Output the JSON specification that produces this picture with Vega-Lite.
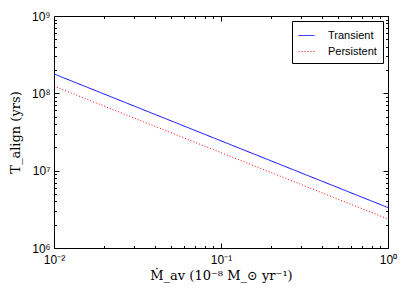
{
  "$schema": "https://vega.github.io/schema/vega-lite/v6.json",
  "width": 334,
  "height": 232,
  "autosize": {"type": "none"},
  "padding": {"left": 54, "top": 16, "right": 19, "bottom": 57},
  "background": "white",
  "config": {
    "view": {"stroke": "black", "strokeWidth": 1},
    "font": "Liberation Sans",
    "axis": {
      "domain": false,
      "grid": false,
      "tickColor": "black",
      "labelColor": "black",
      "labelFont": "Liberation Sans",
      "labelFontSize": 12,
      "titleFont": "DejaVu Serif",
      "titleFontWeight": "normal",
      "titleFontSize": 13,
      "titleColor": "black"
    }
  },
  "data": {
    "values": [
      {"mdot": 0.01, "T": 178000000, "series": "Transient"},
      {"mdot": 0.1, "T": 24300000, "series": "Transient"},
      {"mdot": 1, "T": 3330000, "series": "Transient"},
      {"mdot": 0.01, "T": 124000000, "series": "Persistent"},
      {"mdot": 0.1, "T": 17100000, "series": "Persistent"},
      {"mdot": 1, "T": 2370000, "series": "Persistent"}
    ]
  },
  "layer": [
    {
      "mark": {"type": "line", "strokeWidth": 1, "clip": true},
      "encoding": {
        "x": {
          "field": "mdot", "type": "quantitative",
          "scale": {"type": "log", "domain": [0.01, 1], "nice": false},
          "axis": {
            "orient": "bottom",
            "title": "Ṁ_av (10⁻⁸ M_⊙ yr⁻¹)",
            "titlePadding": 4,
            "values": [0.01, 0.02, 0.03, 0.04, 0.05, 0.06, 0.07, 0.08, 0.09, 0.1, 0.2, 0.3, 0.4, 0.5, 0.6, 0.7, 0.8, 0.9, 1],
            "labelExpr": "datum.value == 0.01 ? '10⁻²' : datum.value == 0.1 ? '10⁻¹' : datum.value == 1 ? '10⁰' : ''",
            "tickSize": {"condition": {"test": "datum.value == 0.01 || datum.value == 0.1 || datum.value == 1", "value": -5}, "value": -2.5},
            "labelPadding": 11,
            "labelFlush": false
          }
        },
        "y": {
          "field": "T", "type": "quantitative",
          "scale": {"type": "log", "domain": [1000000, 1000000000], "nice": false},
          "axis": {
            "orient": "left",
            "title": "T_align (yrs)",
            "titlePadding": 9,
            "values": [1000000, 2000000, 3000000, 4000000, 5000000, 6000000, 7000000, 8000000, 9000000, 10000000, 20000000, 30000000, 40000000, 50000000, 60000000, 70000000, 80000000, 90000000, 100000000, 200000000, 300000000, 400000000, 500000000, 600000000, 700000000, 800000000, 900000000, 1000000000],
            "labelExpr": "datum.value == 1000000 ? '10⁶' : datum.value == 10000000 ? '10⁷' : datum.value == 100000000 ? '10⁸' : datum.value == 1000000000 ? '10⁹' : ''",
            "tickSize": {"condition": {"test": "datum.value == 1000000 || datum.value == 10000000 || datum.value == 100000000 || datum.value == 1000000000", "value": -5}, "value": -2.5},
            "labelPadding": 9,
            "labelFlush": false
          }
        },
        "color": {
          "field": "series", "type": "nominal",
          "scale": {"domain": ["Transient", "Persistent"], "range": ["#0000ff", "#ff0000"]},
          "legend": {
            "title": null,
            "orient": "none",
            "legendX": 238,
            "legendY": 5,
            "strokeColor": "black",
            "fillColor": "white",
            "padding": 6,
            "symbolType": "stroke",
            "symbolSize": 256,
            "symbolStrokeWidth": 1,
            "labelFontSize": 11,
            "labelFont": "Liberation Sans",
            "labelColor": "black",
            "labelOffset": 13,
            "rowPadding": 2
          }
        },
        "strokeDash": {
          "field": "series", "type": "nominal",
          "scale": {"domain": ["Transient", "Persistent"], "range": [[1, 0], [1, 2]]},
          "legend": null
        }
      }
    },
    {
      "mark": {"type": "line", "opacity": 0},
      "encoding": {
        "x": {
          "field": "mdot", "type": "quantitative",
          "scale": {"type": "log", "domain": [0.01, 1], "nice": false},
          "axis": {
            "orient": "top",
            "title": null,
            "labels": false,
            "values": [0.01, 0.02, 0.03, 0.04, 0.05, 0.06, 0.07, 0.08, 0.09, 0.1, 0.2, 0.3, 0.4, 0.5, 0.6, 0.7, 0.8, 0.9, 1],
            "tickSize": {"condition": {"test": "datum.value == 0.01 || datum.value == 0.1 || datum.value == 1", "value": -5}, "value": -2.5}
          }
        },
        "y": {
          "field": "T", "type": "quantitative",
          "scale": {"type": "log", "domain": [1000000, 1000000000], "nice": false},
          "axis": {
            "orient": "right",
            "title": null,
            "labels": false,
            "values": [1000000, 2000000, 3000000, 4000000, 5000000, 6000000, 7000000, 8000000, 9000000, 10000000, 20000000, 30000000, 40000000, 50000000, 60000000, 70000000, 80000000, 90000000, 100000000, 200000000, 300000000, 400000000, 500000000, 600000000, 700000000, 800000000, 900000000, 1000000000],
            "tickSize": {"condition": {"test": "datum.value == 1000000 || datum.value == 10000000 || datum.value == 100000000 || datum.value == 1000000000", "value": -5}, "value": -2.5}
          }
        }
      }
    }
  ],
  "resolve": {"axis": {"x": "independent", "y": "independent"}}
}
